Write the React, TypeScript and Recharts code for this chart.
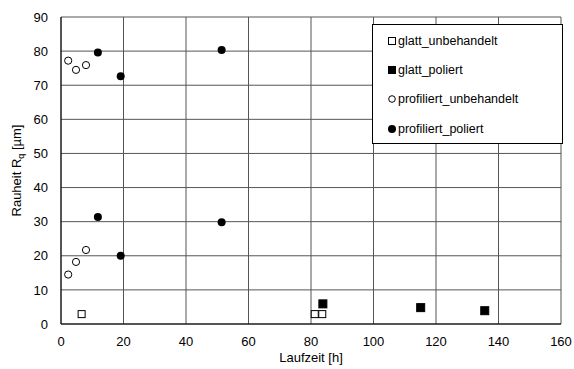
import React from "react";
import { ScatterChart, Scatter, XAxis, YAxis, CartesianGrid } from "recharts";

interface Punkt {
  zeit: number;
  rq: number;
}

const glattUnbehandelt: Punkt[] = [
  { zeit: 6.6, rq: 2.9 },
  { zeit: 81.2, rq: 2.9 },
  { zeit: 83.6, rq: 2.9 },
];

const glattPoliert: Punkt[] = [
  { zeit: 83.8, rq: 5.9 },
  { zeit: 115.1, rq: 4.8 },
  { zeit: 135.6, rq: 3.9 },
];

const profiliertUnbehandelt: Punkt[] = [
  { zeit: 2.3, rq: 77.2 },
  { zeit: 4.8, rq: 74.5 },
  { zeit: 8.0, rq: 75.9 },
  { zeit: 2.3, rq: 14.5 },
  { zeit: 4.8, rq: 18.2 },
  { zeit: 8.0, rq: 21.7 },
];

const profiliertPoliert: Punkt[] = [
  { zeit: 11.8, rq: 79.6 },
  { zeit: 19.1, rq: 72.6 },
  { zeit: 51.4, rq: 80.3 },
  { zeit: 11.8, rq: 31.4 },
  { zeit: 19.1, rq: 20.0 },
  { zeit: 51.4, rq: 29.8 },
];

const xTicks = [0, 20, 40, 60, 80, 100, 120, 140, 160];
const yTicks = [0, 10, 20, 30, 40, 50, 60, 70, 80, 90];

const FONT = "Liberation Sans, Arial, sans-serif";

const OpenSquare = ({ cx, cy }: any) => (
  <rect x={cx - 3.5} y={cy - 3.5} width={7} height={7} fill="#fff" stroke="#000" strokeWidth={1} />
);
const FilledSquare = ({ cx, cy }: any) => (
  <rect x={cx - 4} y={cy - 4} width={8} height={8} fill="#000" stroke="#000" strokeWidth={1} />
);
const OpenCircle = ({ cx, cy }: any) => (
  <circle cx={cx} cy={cy} r={3.6} fill="#fff" stroke="#000" strokeWidth={1} />
);
const FilledCircle = ({ cx, cy }: any) => (
  <circle cx={cx} cy={cy} r={4} fill="#000" />
);

const legendItems = [
  { name: "glatt_unbehandelt", icon: (
    <svg width={8} height={8}><rect x={0.5} y={0.5} width={7} height={7} fill="#fff" stroke="#000" /></svg>
  ) },
  { name: "glatt_poliert", icon: (
    <svg width={8} height={8}><rect x={0} y={0} width={8} height={8} fill="#000" /></svg>
  ) },
  { name: "profiliert_unbehandelt", icon: (
    <svg width={8} height={8}><circle cx={4} cy={4} r={3.3} fill="#fff" stroke="#000" /></svg>
  ) },
  { name: "profiliert_poliert", icon: (
    <svg width={8} height={8}><circle cx={4} cy={4} r={4} fill="#000" /></svg>
  ) },
];

// legend as a plain box over the plot, top right
const LegendBox = () => (
  <div style={{ position: "absolute", left: 372, top: 24, width: 189, height: 117, paddingTop: 1, border: "1px solid #000", background: "#fff", fontFamily: FONT, fontSize: 12.5, color: "#000" }}>
    {legendItems.map((it, i) => (
      <div key={i} style={{ display: "flex", alignItems: "center", height: 29.3, paddingLeft: 15 }}>
        <span style={{ display: "inline-flex", marginRight: 2 }}>{it.icon}</span>
        <span>{it.name}</span>
      </div>
    ))}
  </div>
);

const YLabel = ({ viewBox }: any) => {
  const x = 21;
  const y = viewBox.y + viewBox.height / 2;
  return (
    <text x={x} y={y} transform={`rotate(-90, ${x}, ${y})`} textAnchor="middle" fontFamily={FONT} fontSize={13} fill="#000">
      Rauheit R<tspan fontSize={9} dy={3}>q</tspan><tspan dy={-3}> [µm]</tspan>
    </text>
  );
};

const XLabel = ({ viewBox }: any) => {
  const x = viewBox.x + viewBox.width / 2;
  const y = viewBox.y + 38;
  return (
    <text x={x} y={y} textAnchor="middle" fontFamily={FONT} fontSize={13} fill="#000">
      Laufzeit [h]
    </text>
  );
};

export default function App() {
  return (
    <div style={{ position: "absolute", left: 0, top: 0, width: 574, height: 369, background: "#fff" }}>
      <ScatterChart width={574} height={369} margin={{ top: 17, right: 13, bottom: 15, left: 11 }}>
        <CartesianGrid stroke="#555" strokeWidth={1} />
        <XAxis
          type="number"
          dataKey="zeit"
          domain={[0, 160]}
          ticks={xTicks}
          interval={0}
          height={30}
          tickLine={false}
          tickSize={0}
          tickMargin={13}
          axisLine={{ stroke: "#000" }}
          tick={{ fontFamily: FONT, fontSize: 13, fill: "#000" }}
          label={<XLabel />}
        />
        <YAxis
          type="number"
          dataKey="rq"
          domain={[0, 90]}
          ticks={yTicks}
          interval={0}
          width={50}
          tickLine={false}
          tickSize={0}
          tickMargin={13}
          axisLine={{ stroke: "#000" }}
          tick={{ fontFamily: FONT, fontSize: 13, fill: "#000" }}
          label={<YLabel />}
        />
        <Scatter name="glatt_unbehandelt" data={glattUnbehandelt} shape={<OpenSquare />} isAnimationActive={false} />
        <Scatter name="glatt_poliert" data={glattPoliert} shape={<FilledSquare />} isAnimationActive={false} />
        <Scatter name="profiliert_unbehandelt" data={profiliertUnbehandelt} shape={<OpenCircle />} isAnimationActive={false} />
        <Scatter name="profiliert_poliert" data={profiliertPoliert} shape={<FilledCircle />} isAnimationActive={false} />
      </ScatterChart>
      <LegendBox />
    </div>
  );
}
